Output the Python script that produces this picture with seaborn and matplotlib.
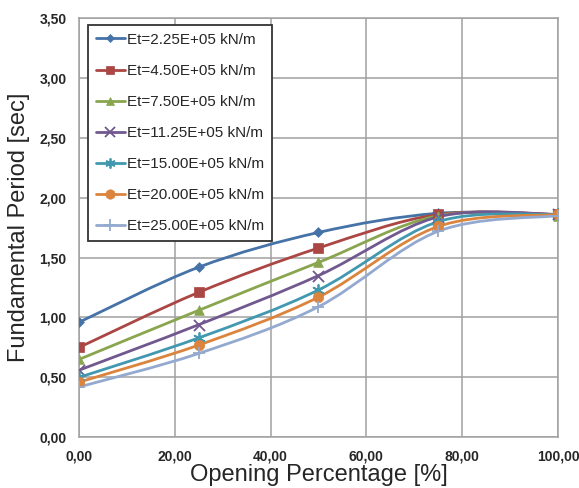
import matplotlib
matplotlib.use("Agg")
import matplotlib.pyplot as plt
from matplotlib.path import Path
from matplotlib.patches import PathPatch
from matplotlib.lines import Line2D
from matplotlib.ticker import FuncFormatter, MultipleLocator
import seaborn as sns
import numpy as np

# Opening percentage [%] and fundamental period [sec] for each stiffness Et
opening = [0, 25, 50, 75, 100]
period_et_225 = [0.96, 1.42, 1.71, 1.87, 1.86]
period_et_450 = [0.75, 1.21, 1.58, 1.86, 1.86]
period_et_750 = [0.65, 1.06, 1.46, 1.85, 1.85]
period_et_1125 = [0.56, 0.94, 1.35, 1.84, 1.86]
period_et_1500 = [0.50, 0.83, 1.23, 1.80, 1.86]
period_et_2000 = [0.46, 0.77, 1.17, 1.76, 1.86]
period_et_2500 = [0.42, 0.70, 1.09, 1.72, 1.85]

labels = ["Et=2.25E+05 kN/m", "Et=4.50E+05 kN/m", "Et=7.50E+05 kN/m",
          "Et=11.25E+05 kN/m", "Et=15.00E+05 kN/m", "Et=20.00E+05 kN/m",
          "Et=25.00E+05 kN/m"]
series = [period_et_225, period_et_450, period_et_750, period_et_1125,
          period_et_1500, period_et_2000, period_et_2500]
colors = ["#4572A7", "#AA4643", "#89A54E", "#71588F", "#4198AF", "#DB843D", "#93A9CF"]
markers = ["D", "s", "^", "x", (6, 2, 0), "o", "+"]
msizes = [5, 7, 7, 8, 8, 7.5, 9]

sns.set_style("white")
plt.rcParams["font.family"] = ["Liberation Sans", "DejaVu Sans"]

fig = plt.figure(figsize=(5.79, 4.88), dpi=100)
ax = fig.add_axes([0.1364, 0.1039, 0.8273, 0.8592])


def smooth_path(xs, ys):
    """Cubic Bezier path through the points (Catmull-Rom tangents)."""
    pts = np.column_stack([xs, ys]).astype(float)
    n = len(pts)
    verts = [pts[0]]
    codes = [Path.MOVETO]
    for i in range(n - 1):
        p0 = pts[i - 1] if i > 0 else pts[i]
        p1 = pts[i]
        p2 = pts[i + 1]
        p3 = pts[i + 2] if i + 2 < n else pts[i + 1]
        c1 = p1 + (p2 - p0) / 6.0
        c2 = p2 - (p3 - p1) / 6.0
        verts += [c1, c2, p2]
        codes += [Path.CURVE4] * 3
    return Path(verts, codes)


for vals, col, mk, ms in zip(series, colors, markers, msizes):
    ax.add_patch(PathPatch(smooth_path(opening, vals), facecolor="none",
                           edgecolor=col, lw=2, zorder=2))
    filled = mk in ("D", "s", "^", "o")
    sns.scatterplot(x=opening, y=vals, marker=mk, color=col, s=ms ** 2,
                    edgecolor=col if filled else None,
                    linewidth=0.5 if filled else 1.3, ax=ax, zorder=3,
                    legend=False)

ax.set_xlim(0, 100)
ax.set_ylim(0, 3.5)
ax.xaxis.set_major_locator(MultipleLocator(20))
ax.yaxis.set_major_locator(MultipleLocator(0.5))
comma = FuncFormatter(lambda v, p: f"{v:.2f}".replace(".", ","))
ax.xaxis.set_major_formatter(comma)
ax.yaxis.set_major_formatter(comma)

ax.grid(True, color="#a0a0a0", lw=1.1)
ax.set_axisbelow(True)
for sp in ax.spines.values():
    sp.set_color("#a0a0a0")
    sp.set_linewidth(1.1)
ax.tick_params(axis="both", direction="out", length=5, width=1, color="#a0a0a0",
               labelsize=10, pad=4)
for lab in ax.get_xticklabels() + ax.get_yticklabels():
    lab.set_fontweight("bold")

ax.set_xlabel("Opening Percentage [%]", fontsize=17, labelpad=0)
ax.set_ylabel("Fundamental Period [sec]", fontsize=17, labelpad=7)

handles = [Line2D([], [], color=c, marker=m, lw=2, markersize=ms * 0.9,
                  markeredgewidth=1.3 if m not in ("D", "s", "^", "o") else 0.5)
           for c, m, ms in zip(colors, markers, msizes)]
leg = ax.legend(handles, labels, loc="upper left", bbox_to_anchor=(0.0188, 0.983),
                borderaxespad=0, fontsize=11, frameon=True, fancybox=False,
                handlelength=1.9, handletextpad=0.15, labelspacing=1.12,
                borderpad=0.5)
leg.get_frame().set_edgecolor("#333333")
leg.get_frame().set_linewidth(1.3)
leg.get_frame().set_alpha(1)

fig.savefig("out.png", dpi=100, facecolor="white")
